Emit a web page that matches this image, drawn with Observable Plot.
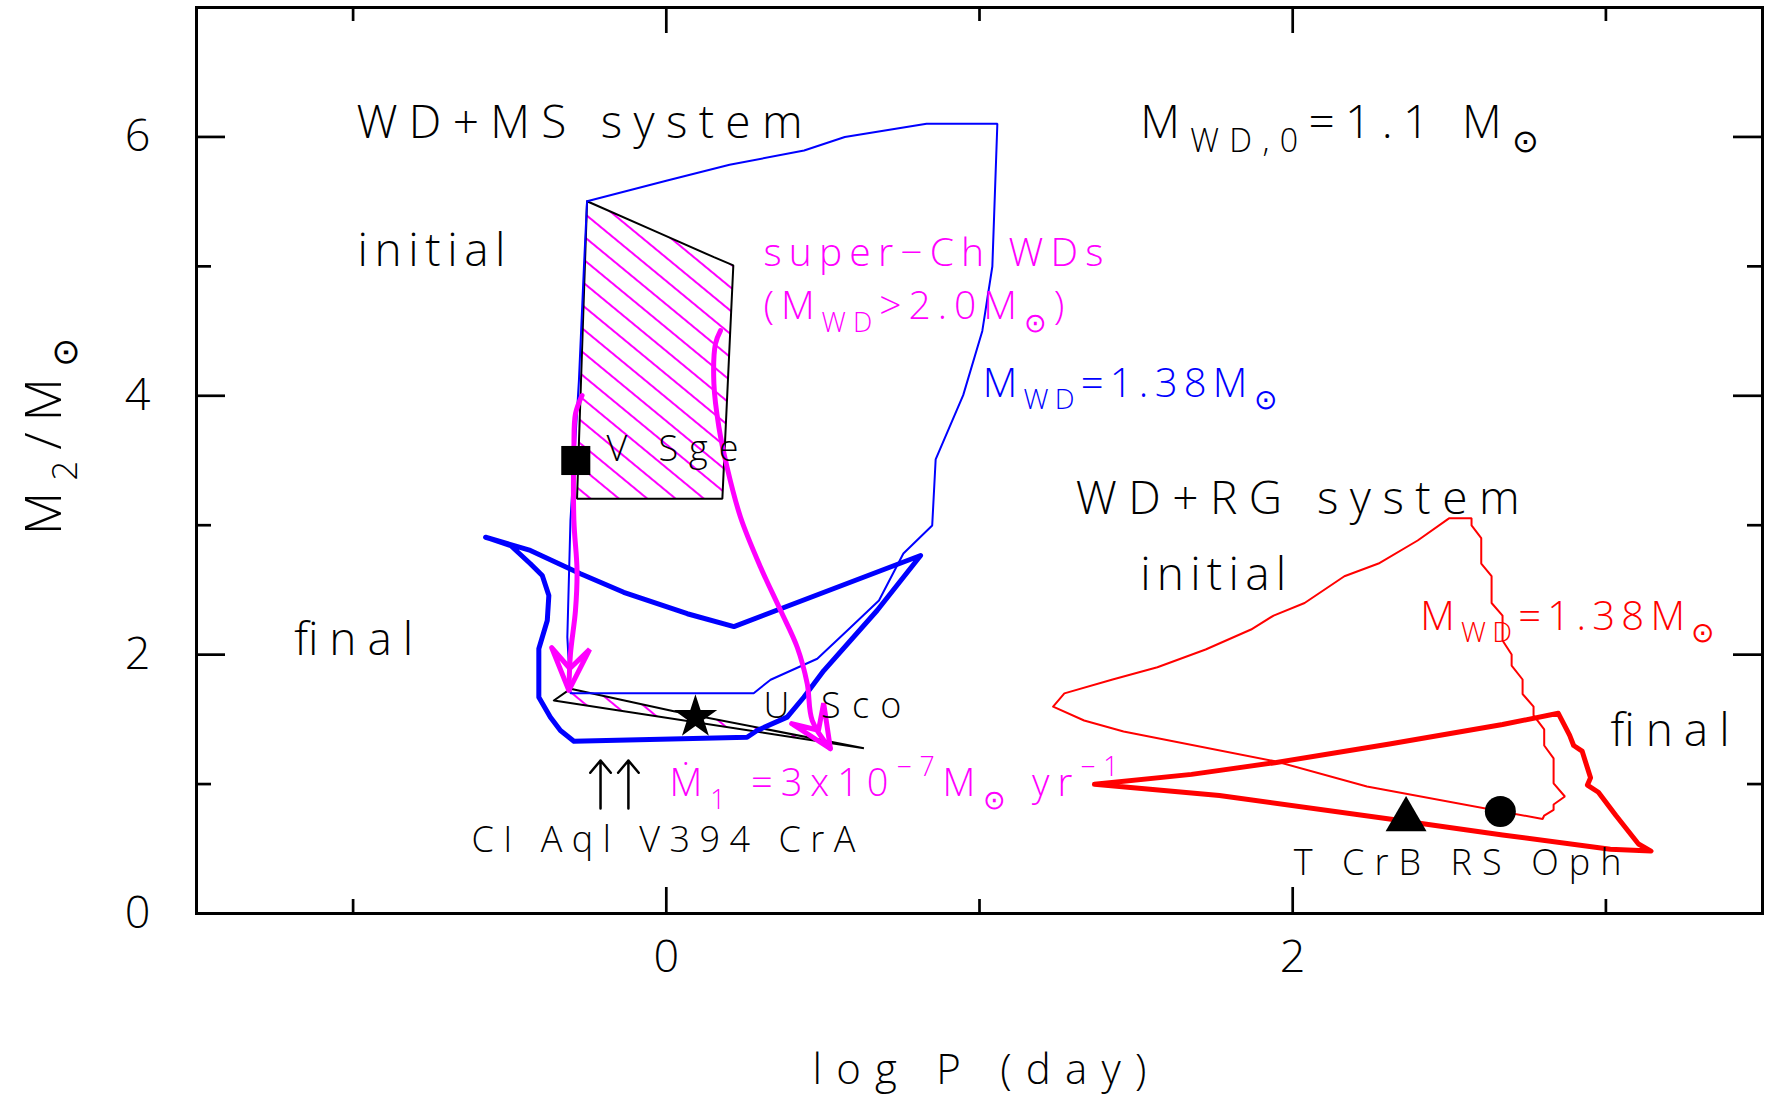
<!DOCTYPE html>
<html>
<head>
<meta charset="utf-8">
<script src="https://cdn.jsdelivr.net/npm/d3@7"></script>
<script src="https://cdn.jsdelivr.net/npm/@observablehq/plot@0.6"></script>
<style>
  html, body { margin: 0; padding: 0; background: #fff; }
  #chart svg { display: block; }
</style>
</head>
<body>
<div id="chart"></div>
<script>
// ---------------------------------------------------------------
// Data: companion mass M2 vs orbital period log P (day)
// ---------------------------------------------------------------

// WD+MS channel, M_WD = 1.38 Msun boundary of the initial region (thin blue)
const msInitX = [-0.253, 0.003, 0.202, 0.440, 0.570, 0.831, 1.057, 1.041, 1.009, 0.948, 0.860, 0.849,
                 0.757, 0.679, 0.578, 0.482, 0.333, 0.279, -0.306, -0.316, -0.306, -0.279, -0.263, -0.253];
const msInitY = [5.503, 5.663, 5.785, 5.895, 6.000, 6.102, 6.102, 4.999, 4.501, 4.005, 3.508, 2.998,
                 2.781, 2.418, 2.187, 1.968, 1.806, 1.702, 1.702, 2.135, 3.036, 4.118, 4.993, 5.503];

// WD+MS channel, final region (thick blue)
const msFinalX = [-0.577, -0.434, -0.274, -0.136, 0.067, 0.216, 0.812, 0.673, 0.503, 0.439, 0.386, 0.290,
                  0.258, -0.295, -0.338, -0.370, -0.407, -0.407, -0.380, -0.375, -0.396, -0.434, -0.497, -0.577];
const msFinalY = [2.907, 2.805, 2.625, 2.482, 2.316, 2.217, 2.766, 2.341, 1.877, 1.671, 1.517, 1.414,
                  1.362, 1.331, 1.414, 1.517, 1.671, 2.045, 2.264, 2.457, 2.611, 2.702, 2.843, 2.907];

// super-Chandrasekhar WD progenitors (M_WD > 2.0 Msun): initial and final regions
const superInitX = [-0.253, -0.029, 0.152, 0.214, 0.179, -0.285, -0.253];
const superInitY = [5.503, 5.264, 5.071, 5.007, 3.204, 3.204, 5.503];
const superFinalX = [-0.359, -0.306, 0.024, 0.631, -0.359];
const superFinalY = [1.646, 1.736, 1.563, 1.277, 1.646];

// evolution paths from the initial to the final region
const pathLeftX = [-0.269, -0.290, -0.295, -0.295, -0.285, -0.290, -0.306, -0.311];
const pathLeftY = [4.002, 3.861, 3.603, 3.036, 2.650, 2.341, 2.006, 1.723];
const pathRightX = [0.173, 0.157, 0.152, 0.168, 0.194, 0.237, 0.301, 0.365, 0.418, 0.450, 0.466, 0.524];
const pathRightY = [4.504, 4.402, 4.093, 3.757, 3.448, 3.062, 2.676, 2.341, 2.057, 1.775, 1.491, 1.273];

// WD+RG channel, M_WD = 1.38 Msun boundary of the initial region (thin red)
const rgInitX = [1.235, 1.271, 1.425, 1.568, 1.722, 1.867, 1.939, 2.038, 2.165, 2.274, 2.399, 2.499, 2.571, 2.571,
                 2.602, 2.602, 2.635, 2.635, 2.670, 2.670, 2.699, 2.699, 2.734, 2.734, 2.769, 2.769, 2.803, 2.803,
                 2.833, 2.833, 2.869, 2.833, 2.833, 2.803, 2.798, 2.237, 1.948, 1.460, 1.334, 1.235];
const rgInitY = [1.599, 1.701, 1.808, 1.903, 2.040, 2.194, 2.302, 2.399, 2.606, 2.704, 2.882, 3.053, 3.053, 2.998,
                 2.901, 2.704, 2.606, 2.399, 2.302, 2.109, 2.001, 1.916, 1.808, 1.696, 1.599, 1.530, 1.422, 1.298,
                 1.199, 1.006, 0.904, 0.842, 0.800, 0.757, 0.730, 0.981, 1.174, 1.406, 1.491, 1.599];

// WD+RG channel, final region (thick red)
const rgFinalX = [1.367, 1.677, 1.948, 2.309, 2.670, 2.848, 2.884, 2.897, 2.924, 2.951, 2.941, 2.976,
                  3.032, 3.104, 3.144, 3.014, 2.670, 2.309, 1.766, 1.367];
const rgFinalY = [0.998, 1.075, 1.167, 1.310, 1.460, 1.547, 1.378, 1.298, 1.255, 1.048, 0.992, 0.937,
                  0.757, 0.537, 0.482, 0.496, 0.607, 0.730, 0.912, 0.998];

// observed recurrent novae
const novaName = ["V Sge", "U Sco", "T CrB", "RS Oph"];
const novaX = [-0.289, 0.093, 2.362, 2.663];
const novaY = [3.500, 1.517, 0.726, 0.788];
const novaSymbol = ["square", "star", "triangle", "circle"];

// CI Aql and V394 CrA pointers
const pointerX = [-0.210, -0.121];
const pointerFrom = [0.811, 0.811];
const pointerTo = [1.182, 1.182];

// annotations (left end of baseline, data units)
const labelText = [
  "WD+MS system", "initial", "M_{WD,0}=1.1 M_{⊙}", "super−Ch WDs", "(M_{WD}>2.0M_{⊙})",
  "M_{WD}=1.38M_{⊙}", "WD+RG system", "initial", "M_{WD}=1.38M_{⊙}", "final", "final",
  "V Sge", "U Sco", "Ṁ_{1} =3x10^{−7}M_{⊙} yr^{−1}", "CI Aql V394 CrA", "T CrB RS Oph"
];
const labelX = [-0.989, -0.986, 1.513, 0.310, 0.310, 1.010, 1.307, 1.513, 2.407, 3.015, -1.188,
                -0.191, 0.310, 0.010, -0.622, 2.003];
const labelY = [5.995, 4.999, 5.995, 5.006, 4.590, 3.994, 3.090, 2.496, 2.194, 1.298, 2.001,
                3.500, 1.507, 0.904, 0.479, 0.301];
const labelKind = ["heading", "phase", "heading", "superCh", "superCh", "msLimit", "heading", "phase",
                   "rgLimit", "phase", "phase", "object", "object", "rate", "object", "object"];

// axes
const xDomain = [-1.5, 3.5];
const yDomain = [0, 7];
const xMajor = [0, 2], xMinor = [-1, 1, 3];
const yMajor = [0, 2, 4, 6], yMinor = [1, 3, 5];
const xTitle = "log P (day)";
const yTitle = "M_{2}/M_{⊙}";

// ---------------------------------------------------------------
// Layout and styles
// ---------------------------------------------------------------
const W = 1767, H = 1100;
const M = {left: 196, right: 5, top: 7, bottom: 187};
const FW = W - M.left - M.right, FH = H - M.top - M.bottom;
const MAGENTA = "#ff00ff", BLUE = "#0000ff", RED = "#ff0000";
const FONT = "'Open Sans', 'DejaVu Sans', sans-serif";

const kindStyle = {
  heading: {fill: "black", size: 46},
  phase:   {fill: "black", size: 46},
  superCh: {fill: MAGENTA, size: 39},
  msLimit: {fill: BLUE, size: 40},
  rgLimit: {fill: RED, size: 40},
  object:  {fill: "black", size: 36},
  rate:    {fill: MAGENTA, size: 38}
};
// rendered span of each annotation, px
const labelSpan = [446, 148, 399, 340, 301, 294, 444, 146, 294, 119, 119, 132, 138, 449, 384, 328];
const novaRadius = [16.4, 13.7, 15.2, 15.5];

const pts = (xs, ys) => xs.map((x, i) => ({x, y: ys[i]}));

// Scales matching the plot, used to shape the arrowheads in screen space
const sx = Plot.scale({x: {domain: xDomain, range: [M.left, W - M.right]}});
const sy = Plot.scale({y: {domain: yDomain, range: [H - M.bottom, M.top]}});

function arrowHead(xs, ys, len = 42, half = 19, notch = 22) {
  const n = xs.length;
  const tx = sx.apply(xs[n - 1]), ty = sy.apply(ys[n - 1]);
  const bx = sx.apply(xs[n - 2]), by = sy.apply(ys[n - 2]);
  const L = Math.hypot(tx - bx, ty - by);
  const ux = (tx - bx) / L, uy = (ty - by) / L;
  const px = -uy, py = ux;
  const p = [
    [tx - ux * len + px * half, ty - uy * len + py * half],
    [tx, ty],
    [tx - ux * len - px * half, ty - uy * len - py * half],
    [tx - ux * notch, ty - uy * notch]
  ];
  p.push(p[0]);
  return p.map(([a, b]) => ({x: sx.invert(a), y: sy.invert(b)}));
}

const labels = labelText.map((t, i) => ({t, x: labelX[i], y: labelY[i], k: labelKind[i]}));

const plot = Plot.plot({
  width: W,
  height: H,
  marginLeft: M.left,
  marginRight: M.right,
  marginTop: M.top,
  marginBottom: M.bottom,
  x: {domain: xDomain},
  y: {domain: yDomain},
  style: `font-family: ${FONT}; font-size: 44px; font-weight: 300; background: white; color: black;`,
  marks: [
    // hatched super-Chandrasekhar regions
    Plot.line(pts(superInitX, superInitY), {x: "x", y: "y", fill: "url(#hatch)", stroke: "black", strokeWidth: 2, strokeLinejoin: "miter"}),
    Plot.line(pts(superFinalX, superFinalY), {x: "x", y: "y", fill: "url(#hatch)", stroke: "black", strokeWidth: 2, strokeLinejoin: "miter"}),

    // WD+MS regions
    Plot.line(pts(msInitX, msInitY), {x: "x", y: "y", stroke: BLUE, strokeWidth: 2, strokeLinejoin: "miter"}),
    Plot.line(pts(msFinalX, msFinalY), {x: "x", y: "y", stroke: BLUE, strokeWidth: 5, strokeLinejoin: "round"}),

    // WD+RG regions
    Plot.line(pts(rgInitX, rgInitY), {x: "x", y: "y", stroke: RED, strokeWidth: 2, strokeLinejoin: "miter"}),
    Plot.line(pts(rgFinalX, rgFinalY), {x: "x", y: "y", stroke: RED, strokeWidth: 5, strokeLinejoin: "round"}),

    // evolution arrows
    Plot.line(pts(pathLeftX, pathLeftY), {x: "x", y: "y", stroke: MAGENTA, strokeWidth: 5, curve: "catmull-rom"}),
    Plot.line(pts(pathRightX, pathRightY), {x: "x", y: "y", stroke: MAGENTA, strokeWidth: 5, curve: "catmull-rom"}),
    Plot.line(arrowHead(pathLeftX, pathLeftY), {x: "x", y: "y", stroke: MAGENTA, strokeWidth: 5, strokeLinejoin: "miter"}),
    Plot.line(arrowHead(pathRightX, pathRightY), {x: "x", y: "y", stroke: MAGENTA, strokeWidth: 5, strokeLinejoin: "miter"}),

    // recurrent novae
    ...novaName.map((name, i) =>
      Plot.dot([{x: novaX[i], y: novaY[i], name}], {x: "x", y: "y", symbol: novaSymbol[i], r: novaRadius[i], fill: "black", stroke: "none"})
    ),

    // pointers to CI Aql and V394 CrA
    Plot.arrow(pointerX.map((x, i) => ({x, y1: pointerFrom[i], y2: pointerTo[i]})),
      {x1: "x", x2: "x", y1: "y1", y2: "y2", stroke: "black", strokeWidth: 2.5, headLength: 10, headAngle: 80}),

    // frame and inward ticks on all four sides
    Plot.frame({stroke: "black", strokeWidth: 3}),
    Plot.ruleX(xMajor, {stroke: "black", strokeWidth: 2.7, insetTop: FH - 26}),
    Plot.ruleX(xMajor, {stroke: "black", strokeWidth: 2.7, insetBottom: FH - 26}),
    Plot.ruleX(xMinor, {stroke: "black", strokeWidth: 2.7, insetTop: FH - 14}),
    Plot.ruleX(xMinor, {stroke: "black", strokeWidth: 2.7, insetBottom: FH - 14}),
    Plot.ruleY(yMajor, {stroke: "black", strokeWidth: 2.7, insetRight: FW - 29}),
    Plot.ruleY(yMajor, {stroke: "black", strokeWidth: 2.7, insetLeft: FW - 29}),
    Plot.ruleY(yMinor, {stroke: "black", strokeWidth: 2.7, insetRight: FW - 15}),
    Plot.ruleY(yMinor, {stroke: "black", strokeWidth: 2.7, insetLeft: FW - 15}),

    // tick labels
    Plot.axisX({ticks: xMajor, tickFormat: "d", tickSize: 0, tickPadding: 27, label: null, fontSize: 45}),
    Plot.axisY({ticks: yMajor, tickFormat: "d", tickSize: 0, tickPadding: 46, label: null, fontSize: 45}),

    // annotations
    Plot.text(labels, {
      x: "x", y: "y", text: "t", textAnchor: "start", lineAnchor: "bottom",
      fill: (d) => kindStyle[d.k].fill, fontSize: (d) => kindStyle[d.k].size, fontWeight: 300
    }),

    // axis titles
    Plot.text([xTitle], {frameAnchor: "bottom", dy: 170, textAnchor: "middle", lineAnchor: "bottom", fontSize: 42, fontWeight: 300}),
    Plot.text([yTitle], {frameAnchor: "left", dx: -136, dy: -24, rotate: -90, textAnchor: "middle", lineAnchor: "bottom", fontSize: 50, fontWeight: 300})
  ]
});

// hatch pattern used by the super-Chandrasekhar regions
const svgNS = "http://www.w3.org/2000/svg";
const defs = d3.select(plot).insert("defs", ":first-child");
const pat = defs.append("pattern")
  .attr("id", "hatch")
  .attr("patternUnits", "userSpaceOnUse")
  .attr("width", 18)
  .attr("height", 18)
  .attr("patternTransform", "rotate(-50.5)");
pat.append("line")
  .attr("x1", 9).attr("y1", -2).attr("x2", 9).attr("y2", 20)
  .attr("stroke", MAGENTA).attr("stroke-width", 2);

// rich text: _{...} subscripts, ^{...} superscripts
function richText(el, s, size, span) {
  el.textContent = "";
  const re = /([_^])\{([^}]*)\}|([^_^]+)/g;
  let m, shift = 0;
  while ((m = re.exec(s))) {
    const t = document.createElementNS(svgNS, "tspan");
    if (m[3] !== undefined) {
      t.textContent = m[3];
      if (shift) t.setAttribute("dy", -shift);
      shift = 0;
    } else {
      const d = m[1] === "_" ? 0.32 * size : -0.55 * size;
      t.textContent = m[2];
      t.setAttribute("font-size", 0.7 * size);
      t.setAttribute("dy", d - shift);
      shift = d;
    }
    el.appendChild(t);
  }
  if (span) {
    el.setAttribute("textLength", span);
    el.setAttribute("lengthAdjust", "spacing");
  }
}

const textGroups = plot.querySelectorAll('g[aria-label="text"]');
textGroups[0].querySelectorAll("text").forEach((el, i) => {
  richText(el, labels[i].t, kindStyle[labels[i].k].size, labelSpan[i]);
});
textGroups[1].querySelectorAll("text").forEach((el) => richText(el, xTitle, 42, 334));
textGroups[2].querySelectorAll("text").forEach((el) => richText(el, yTitle, 50, 197));

document.getElementById("chart").appendChild(plot);
</script>
</body>
</html>
